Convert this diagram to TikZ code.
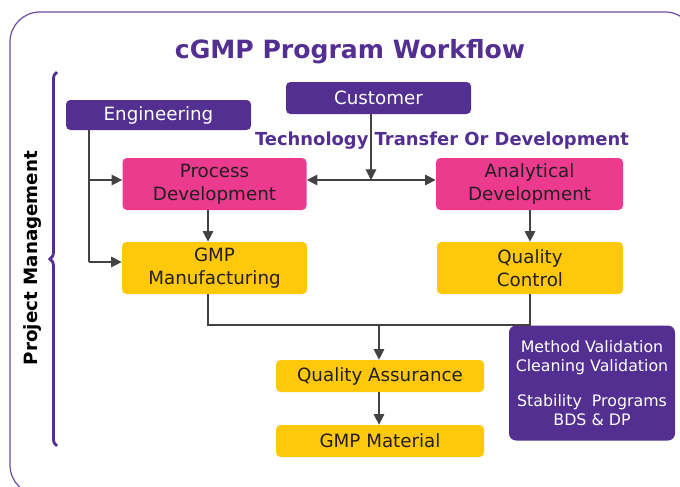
\documentclass[tikz,border=0pt]{standalone}
\usepackage{fontspec}
\setmainfont{DejaVu Sans}
\usepackage{xcolor}
\definecolor{ColPurple}{RGB}{82,47,145}
\definecolor{ColPink}{RGB}{236,58,143}
\definecolor{ColYellow}{RGB}{255,200,10}
\definecolor{ColText}{RGB}{35,31,32}
\usetikzlibrary{arrows.meta}
\usetikzlibrary{decorations.pathreplacing}
\tikzstyle{Box}=[rectangle,rounded corners=2.5pt,inner sep=0pt,align=center,
font=\fontsize{10.4}{13}\selectfont]
\tikzstyle{PurpleBox}=[Box,fill=ColPurple,text=white]
\tikzstyle{PinkBox}=[Box,fill=ColPink,text=ColText]
\tikzstyle{YellowBox}=[Box,fill=ColYellow,text=ColText]
\tikzstyle{Edge}=[draw=ColText!85,line width=0.6pt]
\tikzstyle{Arrow}=[Edge,-{Triangle[length=6pt,width=6pt]}]

\begin{document}
\begin{tikzpicture}[x=0.02cm,y=-0.02cm]
        \clip(0,0)rectangle(680,487);
        \draw[ColPurple!85,line width=0.7pt,rounded corners=17pt]
            (10,12)rectangle(695,495);
        \node[text=ColPurple,font=\fontsize{14.3}{17}\selectfont\bfseries]
            (title)at(350,52){cGMP Program Workflow};
        \draw[ColPurple,line width=1.6pt,decorate,
            decoration={brace,amplitude=4pt,aspect=0.5}](57,446)--(57,72);
        \node[rotate=90,font=\fontsize{10.4}{12.5}\selectfont\bfseries]
            (pm)at(33,258){Project Management};
        \node[PurpleBox,minimum width=185*0.02cm,minimum height=30*0.02cm]
            (eng)at(158.5,115){Engineering};
        \node[PurpleBox,minimum width=185*0.02cm,minimum height=32*0.02cm]
            (cust)at(378.5,98){Customer};
        \node[text=ColPurple,font=\fontsize{10.2}{12}\selectfont\bfseries]
            (ttod)at(442,141){Technology Transfer Or Development};
        \node[PinkBox,minimum width=184*0.02cm,minimum height=52*0.02cm]
            (pd)at(214.5,184){Process\\Development};
        \node[PinkBox,minimum width=187*0.02cm,minimum height=52*0.02cm]
            (ad)at(529.5,184){Analytical\\Development};
        \node[YellowBox,minimum width=185*0.02cm,minimum height=52*0.02cm]
            (gmpm)at(214.5,268){GMP\\Manufacturing};
        \node[YellowBox,minimum width=186*0.02cm,minimum height=52*0.02cm]
            (qc)at(530,268){Quality\\Control};
        \node[YellowBox,minimum width=208*0.02cm,minimum height=32*0.02cm]
            (qa)at(380,376){Quality Assurance};
        \node[YellowBox,minimum width=208*0.02cm,minimum height=32*0.02cm]
            (gmpmat)at(380,441){GMP Material};
        \node[PurpleBox,rounded corners=4pt,minimum width=166*0.02cm,
            minimum height=115*0.02cm,font=\fontsize{9}{11}\selectfont]
            (val)at(592,383){Method Validation\\Cleaning Validation\\[9pt]
            Stability\ \ Programs\\BDS \& DP};
        \coordinate(engc)at(89,130);
        \coordinate(pdc)at(89,180);
        \coordinate(gmpc)at(89,262);
        \coordinate(mid)at(371,180);
        \coordinate(join)at(379,325);
        \draw[Edge](engc)--(gmpc);
        \draw[Arrow](pdc)--(pd.west|-pdc);
        \draw[Arrow](gmpc)--(gmpm.west|-gmpc);
        \draw[Arrow](cust.south-|mid)--(mid);
        \draw[Edge,{Triangle[length=6pt,width=6pt]}-{Triangle[length=6pt,width=6pt]}]
            (pd.east|-mid)--(ad.west|-mid);
        \draw[Arrow](pd.south-|208,0)--(gmpm.north-|208,0);
        \draw[Arrow](ad.south-|530,0)--(qc.north-|530,0);
        \draw[Edge](gmpm.south-|208,0)--(208,325)--(530,325)--(qc.south-|530,0);
        \draw[Arrow](join)--(qa.north-|join);
        \draw[Arrow](qa.south-|join)--(gmpmat.north-|join);
    \end{tikzpicture}
\end{document}
